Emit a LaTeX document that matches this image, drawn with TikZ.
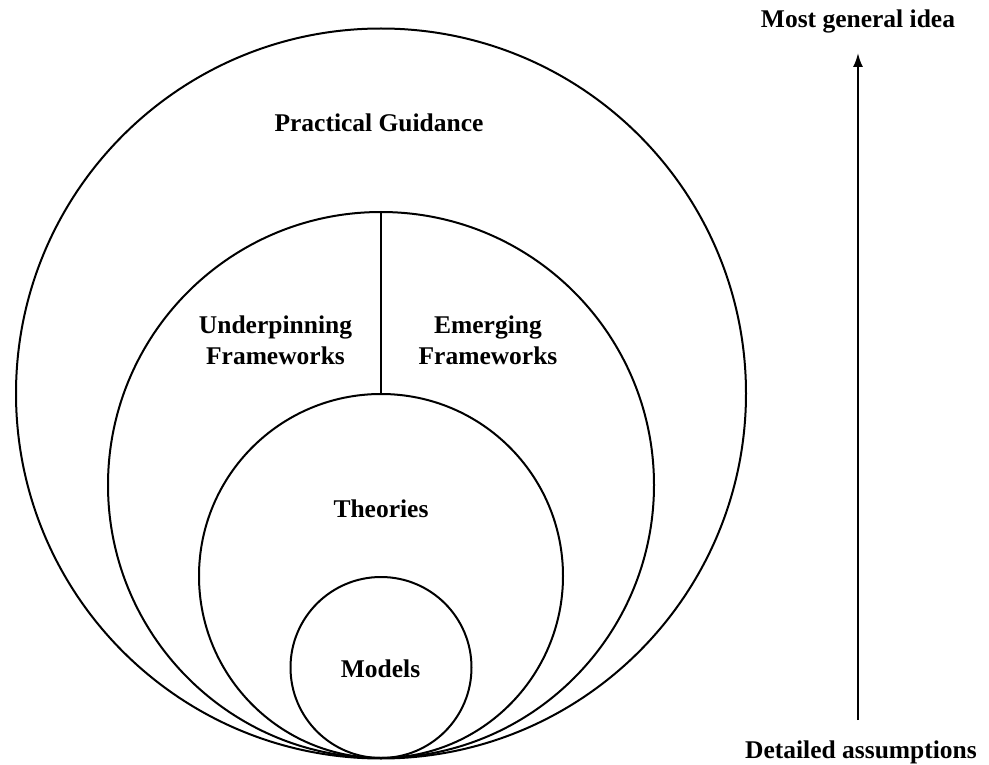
\documentclass[tikz,border=0pt]{standalone}
\usepackage{fontspec}
\setmainfont{Liberation Serif}
\usetikzlibrary{arrows.meta}
\tikzset{>={Latex[length=14pt,width=10pt]}}
\tikzset{
  ring/.style={circle, draw=black, line width=2pt, inner sep=0pt, outer sep=0pt},
  lbl/.style={font=\bfseries\fontsize{25.5}{31}\selectfont, align=center, inner sep=0pt},
}

\begin{document}
\begin{tikzpicture}[x=1pt,y=-1pt]
          \useasboundingbox (0,0) rectangle (989,765);

          \node[ring, minimum size=730pt] (guidance) at (381,393.5) {};
          \node[ring, minimum size=546pt] (frames) at (381,485) {};
          \node[ring, minimum size=364pt] (theories) at (381,576) {};
          \node[ring, minimum size=181pt] (models) at (381,667.5) {};

          \node[lbl, anchor=base] (guidancetxt) at (379,132) {Practical Guidance};
          \node[lbl] (underpin) at (275.5,340.5) {Underpinning\\Frameworks};
          \node[lbl] (emerging) at (488,340.5) {Emerging\\Frameworks};
          \node[lbl, anchor=base] (theoriestxt) at (381,517) {Theories};
          \node[lbl, anchor=base] (modelstxt) at (380.5,677) {Models};

          \path[draw=black, line width=2pt] (frames.north) -- (theories.north);

          \node[lbl, anchor=base] (general) at (858,28) {Most general idea};
          \node[lbl, anchor=base] (detailed) at (861,758) {Detailed assumptions};
          \coordinate (low) at (858,720);
          \coordinate (high) at (858,53);
          \path[draw=black, line width=2pt, ->] (low) -- (high);
        \end{tikzpicture}
\end{document}
